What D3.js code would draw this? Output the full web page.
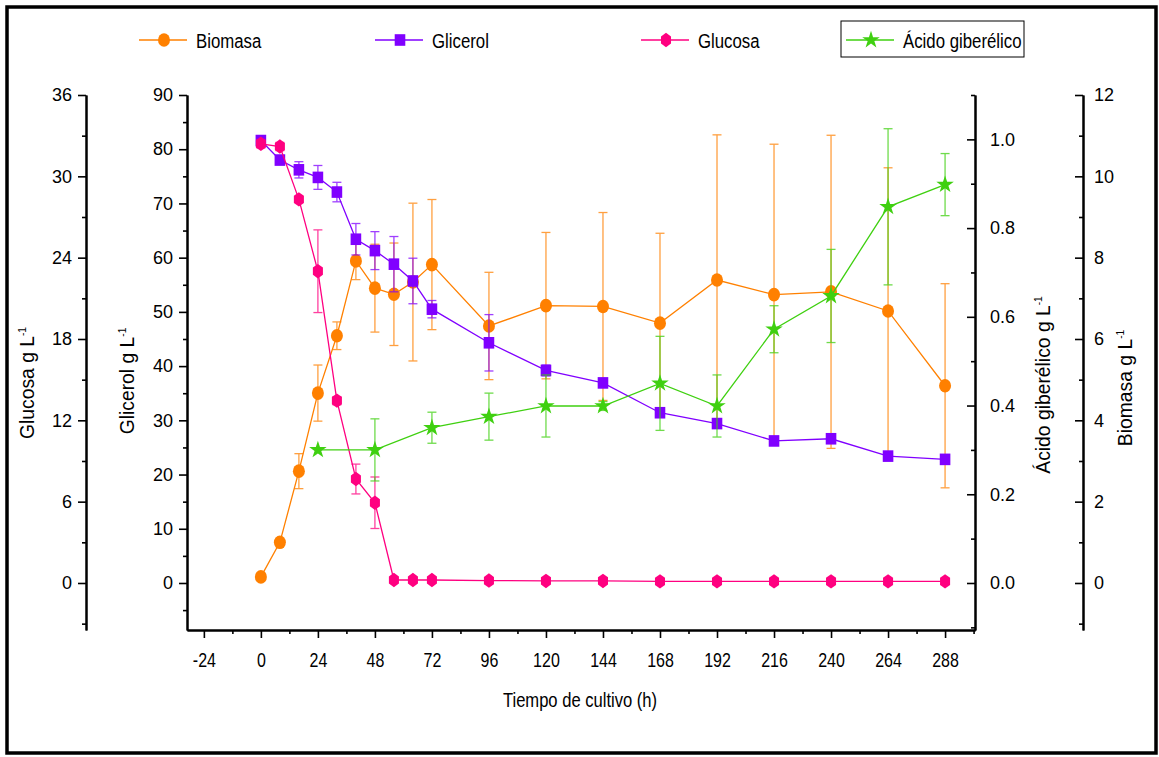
<!DOCTYPE html>
<html>
<head>
<meta charset="utf-8">
<script src="https://cdn.jsdelivr.net/npm/d3@7"></script>
<style>
  body { margin: 0; background: #fff; }
  svg { display: block; }
  text { font-family: "Liberation Sans", Arial, sans-serif; fill: #000; }
</style>
</head>
<body>
<div id="chart"></div>
<script>
// Data
const tiempo = [0, 8, 16, 24, 32, 40, 48, 56, 64, 72, 96, 120, 144, 168, 192, 216, 240, 264, 288];

const biomasa    = [0.15, 1.0, 2.75, 4.67, 6.08, 7.92, 7.25, 7.1, 7.4, 7.83, 6.32, 6.82, 6.80, 6.39, 7.45, 7.09, 7.16, 6.69, 4.85];
const biomasaErr = [0, 0, 0.43, 0.69, 0.34, 0.46, 1.08, 1.26, 1.94, 1.6, 1.32, 1.8, 2.31, 2.21, 3.57, 3.7, 3.85, 3.52, 2.51];

const glicerol    = [81.6, 78.0, 76.2, 74.8, 72.1, 63.4, 61.3, 58.8, 55.7, 50.5, 44.3, 39.2, 36.9, 31.4, 29.4, 26.2, 26.6, 23.4, 22.8];
const glicerolErr = [0, 0, 1.5, 2.2, 1.8, 2.9, 3.5, 5.1, 4.2, 1.6, 5.2, 1, 0.5, 0.5, 0.5, 0.5, 0.5, 0.5, 0.5];

const glucosa    = [32.4, 32.2, 28.3, 23.0, 13.45, 7.67, 5.92, 0.22, 0.22, 0.22, 0.18, 0.15, 0.15, 0.12, 0.12, 0.12, 0.12, 0.12, 0.12];
const glucosaErr = [0.3, 0.3, 0, 3.05, 0.3, 1.1, 1.9, 0, 0, 0, 0, 0, 0, 0, 0, 0, 0, 0, 0];

const tiempoAG = [24, 48, 72, 96, 120, 144, 168, 192, 216, 240, 264, 288];
const acido    = [0.30, 0.30, 0.35, 0.375, 0.399, 0.399, 0.45, 0.399, 0.572, 0.647, 0.848, 0.898];
const acidoErr = [0, 0.07, 0.035, 0.053, 0.07, 0.01, 0.106, 0.07, 0.053, 0.105, 0.176, 0.07];

const xTicks = d3.range(-24, 289, 24);
const xMinor = d3.range(-12, 301, 24);

// Dimensions
const W = 1159, H = 757;
const plot = { left: 187, right: 975, top: 95, bottom: 630 };

const svg = d3.select("#chart").append("svg").attr("width", W).attr("height", H);

// Outer frame
svg.append("rect")
  .attr("x", 7).attr("y", 7).attr("width", 1149).attr("height", 746)
  .attr("fill", "none").attr("stroke", "#000").attr("stroke-width", 3.5);

// Scales (all y axes share the same zero line and top)
const lo = -8.67 / 90;
const x = d3.scaleLinear().domain([-31.1, 300.6]).range([plot.left, plot.right]);
const yGli = d3.scaleLinear().domain([90 * lo, 90]).range([plot.bottom, plot.top]);
const yGlu = d3.scaleLinear().domain([36 * lo, 36]).range([plot.bottom, plot.top]);
const yAG  = d3.scaleLinear().domain([1.1 * lo, 1.1]).range([plot.bottom, plot.top]);
const yBio = d3.scaleLinear().domain([12 * lo, 12]).range([plot.bottom, plot.top]);

const colors = {
  biomasa: "#FF8000",
  glicerol: "#8000FF",
  glucosa: "#FF0080",
  acido: "#3FD010"
};

// Axis helper: major + minor ticks
function drawAxis(gen, scale, major, minor, xPos, yPos, fmt, inner) {
  const g = svg.append("g").attr("transform", `translate(${xPos},${yPos})`);
  g.call(gen(scale).tickValues(minor).tickFormat("").tickSizeInner(inner * 0.5).tickSizeOuter(0));
  const gm = svg.append("g").attr("transform", `translate(${xPos},${yPos})`);
  gm.call(gen(scale).tickValues(major).tickFormat(fmt).tickSizeInner(inner).tickSizeOuter(0)
    .tickPadding(inner > 0 ? 6 : 15));
  [g, gm].forEach((a) => {
    a.selectAll("path, line").attr("stroke", "#000").attr("stroke-width", 1.6);
    a.select(".domain").attr("stroke-width", 2);
  });
  gm.selectAll("text").style("font-size", "18px").attr("fill", "#000");
  return gm;
}

drawAxis(d3.axisLeft, yGlu, d3.range(0, 37, 6), d3.range(-3, 34, 6), 86, 0, d3.format("d"), 8);
drawAxis(d3.axisLeft, yGli, d3.range(0, 91, 10), d3.range(-5, 86, 10), plot.left, 0, d3.format("d"), 8);
drawAxis(d3.axisRight, yAG, d3.range(0, 1.01, 0.2), d3.range(-0.1, 1.11, 0.2), plot.right, 0, d3.format(".1f"), -8);
const bioAx = drawAxis(d3.axisRight, yBio, d3.range(0, 13, 2), d3.range(-1, 12, 2), 1083, 0, d3.format("d"), -8);
bioAx.selectAll(".tick text").attr("x", 11);

const xAx = drawAxis(d3.axisBottom, x, xTicks, xMinor, 0, plot.bottom, (d) => String(d), 8);
xAx.selectAll(".tick text")
  .attr("dy", "1.15em")
  .attr("transform", "scale(0.8,1)")
  .style("font-size", "20px");

// Axis titles
function yTitle(cx, cy, label) {
  const t = svg.append("text")
    .attr("transform", `translate(${cx},${cy}) rotate(-90) scale(0.92,1)`)
    .attr("text-anchor", "middle")
    .style("font-size", "21px");
  t.append("tspan").text(label + " g L");
  t.append("tspan").attr("dy", -8).style("font-size", "11px").text("-1");
}
yTitle(34, 383, "Glucosa");
yTitle(134, 381, "Glicerol");
yTitle(1050, 385, "Ácido giberélico");
yTitle(1132, 388, "Biomasa");

svg.append("text")
  .attr("transform", "translate(580,707) scale(0.79,1)")
  .attr("text-anchor", "middle")
  .style("font-size", "21px")
  .text("Tiempo de cultivo (h)");

// Marker shapes
const hexPath = (() => {
  const rx = 5.8, ry = 7.2;
  return d3.range(6).map((i) => {
    const a = Math.PI / 2 + i * Math.PI / 3;
    return [rx * Math.cos(a), -ry * Math.sin(a)];
  });
})();
function marker(sel, type, color) {
  if (type === "circle") {
    sel.append("ellipse").attr("rx", 6).attr("ry", 6.8).attr("fill", color);
  } else if (type === "square") {
    sel.append("rect").attr("x", -5.3).attr("y", -5.8).attr("width", 10.6).attr("height", 11.6).attr("fill", color);
  } else if (type === "hex") {
    sel.append("path").attr("d", d3.line()(hexPath) + "Z").attr("fill", color);
  } else if (type === "star") {
    sel.append("path").attr("d", d3.symbol(d3.symbolStar, 95)()).attr("fill", color);
  }
}

// Series drawing
const series = [
  { key: "biomasa", times: tiempo, vals: biomasa, errs: biomasaErr, y: yBio, shape: "circle", cap: 4.5 },
  { key: "glicerol", times: tiempo, vals: glicerol, errs: glicerolErr, y: yGli, shape: "square", cap: 4.5 },
  { key: "glucosa", times: tiempo, vals: glucosa, errs: glucosaErr, y: yGlu, shape: "hex", cap: 4.5 },
  { key: "acido", times: tiempoAG, vals: acido, errs: acidoErr, y: yAG, shape: "star", cap: 4.5 }
];

series.forEach((s) => {
  const pts = s.times.map((t, i) => ({ t, v: s.vals[i], e: s.errs[i] }));
  const color = colors[s.key];
  const g = svg.append("g");

  // error bars
  const eb = g.selectAll(".eb").data(pts.filter((d) => d.e > 0)).join("g")
    .attr("stroke", color).attr("stroke-width", 1.3).attr("opacity", 0.75);
  eb.append("line")
    .attr("x1", (d) => x(d.t)).attr("x2", (d) => x(d.t))
    .attr("y1", (d) => s.y(d.v - d.e)).attr("y2", (d) => s.y(d.v + d.e));
  eb.append("line")
    .attr("x1", (d) => x(d.t) - s.cap).attr("x2", (d) => x(d.t) + s.cap)
    .attr("y1", (d) => s.y(d.v - d.e)).attr("y2", (d) => s.y(d.v - d.e));
  eb.append("line")
    .attr("x1", (d) => x(d.t) - s.cap).attr("x2", (d) => x(d.t) + s.cap)
    .attr("y1", (d) => s.y(d.v + d.e)).attr("y2", (d) => s.y(d.v + d.e));

  g.append("path")
    .datum(pts)
    .attr("fill", "none")
    .attr("stroke", color)
    .attr("stroke-width", 1.3)
    .attr("d", d3.line().x((d) => x(d.t)).y((d) => s.y(d.v)));

  g.selectAll(".mk").data(pts).join("g")
    .attr("transform", (d) => `translate(${x(d.t)},${s.y(d.v)})`)
    .each(function () { marker(d3.select(this), s.shape, color); });
});

// Legend
const legendItems = [
  { label: "Biomasa", key: "biomasa", shape: "circle", x: 139 },
  { label: "Glicerol", key: "glicerol", shape: "square", x: 375 },
  { label: "Glucosa", key: "glucosa", shape: "hex", x: 641 },
  { label: "Ácido giberélico", key: "acido", shape: "star", x: 846 }
];
svg.append("rect")
  .attr("x", 841).attr("y", 21).attr("width", 183).attr("height", 36)
  .attr("fill", "none").attr("stroke", "#000").attr("stroke-width", 1);

legendItems.forEach((d) => {
  const g = svg.append("g").attr("transform", `translate(${d.x},40)`);
  g.append("line").attr("x1", 0).attr("x2", 48).attr("y1", 0).attr("y2", 0)
    .attr("stroke", colors[d.key]).attr("stroke-width", 1.3);
  marker(g.append("g").attr("transform", "translate(25,0)"), d.shape, colors[d.key]);
  g.append("text")
    .attr("transform", "translate(57,8) scale(0.8,1)")
    .style("font-size", "21px")
    .text(d.label);
});
</script>
</body>
</html>
